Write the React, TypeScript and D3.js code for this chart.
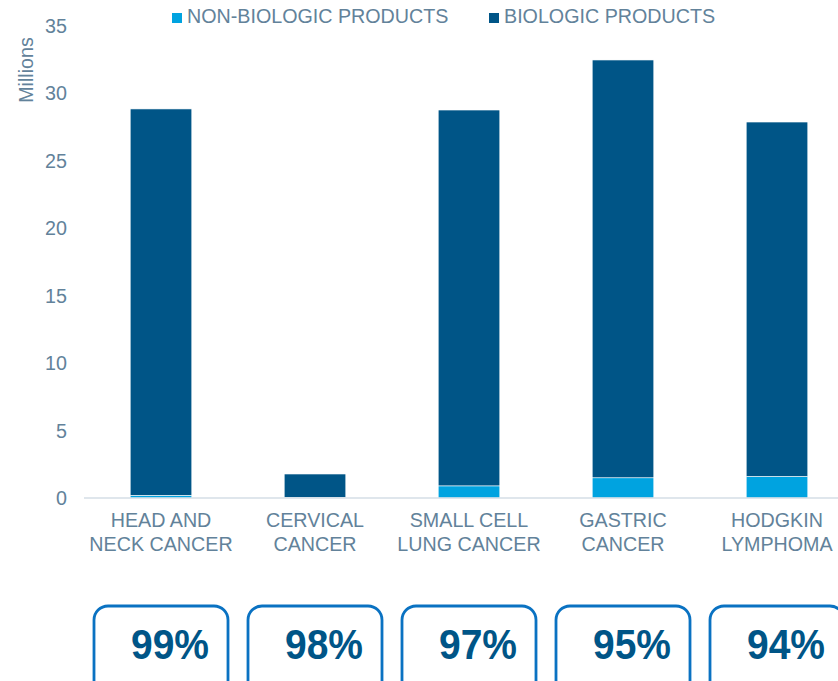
import { useEffect, useRef } from 'react';
import * as d3 from 'd3';

const categories = [
  ['HEAD AND', 'NECK CANCER'],
  ['CERVICAL', 'CANCER'],
  ['SMALL CELL', 'LUNG CANCER'],
  ['GASTRIC', 'CANCER'],
  ['HODGKIN', 'LYMPHOMA'],
];
const nonBiologic = [0.2, 0.05, 0.9, 1.5, 1.6];
const biologic = [28.65, 1.73, 27.87, 30.98, 26.28];
const shares = ['99%', '98%', '97%', '95%', '94%'];
const yTicks = [0, 5, 10, 15, 20, 25, 30, 35];
const seriesNames = ['NON-BIOLOGIC PRODUCTS', 'BIOLOGIC PRODUCTS'];

const W = 838;
const H = 681;
const lightBlue = '#00A3E0';
const darkBlue = '#005587';
const textColor = '#62829A';
const font = 'Liberation Sans, Arial, sans-serif';
const fs = 19.7;

export default function App() {
  const svgRef = useRef<SVGSVGElement>(null);

  useEffect(() => {
    if (!svgRef.current) return;
    const svg = d3.select(svgRef.current);
    svg.selectAll('*').remove();

    const keys = categories.map((c) => c.join(' '));
    const x = d3.scaleBand<string>().domain(keys).range([84, 854]).padding(0);
    const y = d3.scaleLinear().domain([0, 35]).range([498, 26]);
    const step = x.step();
    const barW = step * 0.4;

    // y tick labels
    svg.append('g')
      .selectAll('text')
      .data(yTicks)
      .join('text')
      .attr('x', 67)
      .attr('y', (d) => y(d) + 7)
      .attr('text-anchor', 'end')
      .attr('font-family', font)
      .attr('font-size', fs)
      .attr('fill', textColor)
      .text((d) => d);

    svg.append('text')
      .attr('transform', 'translate(33,70) rotate(-90)')
      .attr('text-anchor', 'middle')
      .attr('font-family', font)
      .attr('font-size', fs)
      .attr('fill', textColor)
      .text('Millions');

    // stacked bars
    const stackData = keys.map((k, i) => ({ key: k, non: nonBiologic[i], bio: biologic[i] }));
    const stacked = d3.stack<any>().keys(['non', 'bio'])(stackData);
    const colors = [lightBlue, darkBlue];

    stacked.forEach((layer, li) => {
      svg.append('g')
        .selectAll('rect')
        .data(layer)
        .join('rect')
        .attr('x', (d) => (x(d.data.key) as number) + (step - barW) / 2)
        .attr('y', (d) => y(d[1]))
        .attr('width', barW)
        .attr('height', (d) => y(d[0]) - y(d[1]))
        .attr('fill', colors[li])
        .attr('stroke', '#ffffff')
        .attr('stroke-width', 0.6);
    });

    // baseline
    svg.append('line')
      .attr('x1', 84)
      .attr('x2', W)
      .attr('y1', y(0))
      .attr('y2', y(0))
      .attr('stroke', '#D5DEE6')
      .attr('stroke-width', 1.5);

    // category labels
    const catG = svg.append('g')
      .selectAll('text')
      .data(categories)
      .join('text')
      .attr('text-anchor', 'middle')
      .attr('font-family', font)
      .attr('font-size', fs)
      .attr('fill', textColor);
    catG.each(function (d, i) {
      const cx = (x(keys[i]) as number) + step / 2;
      const t = d3.select(this);
      d.forEach((line, j) => {
        t.append('tspan').attr('x', cx).attr('y', 527 + j * 24).text(line);
      });
    });

    // legend
    const legendX = [172, 489];
    seriesNames.forEach((name, i) => {
      svg.append('rect')
        .attr('x', legendX[i])
        .attr('y', 13)
        .attr('width', 10)
        .attr('height', 10)
        .attr('fill', colors[i]);
      svg.append('text')
        .attr('x', legendX[i] + 15)
        .attr('y', 23)
        .attr('font-family', font)
        .attr('font-size', fs)
        .attr('fill', textColor)
        .text(name);
    });

    // share boxes
    const boxW = 134;
    const boxG = svg.append('g')
      .selectAll('g')
      .data(shares)
      .join('g')
      .attr('transform', (_, i) => `translate(${(x(keys[i]) as number) + step / 2},0)`);
    boxG.append('rect')
      .attr('x', -boxW / 2)
      .attr('y', 606)
      .attr('width', boxW)
      .attr('height', 100)
      .attr('rx', 14)
      .attr('fill', '#ffffff')
      .attr('stroke', '#0A72C2')
      .attr('stroke-width', 2.8);
    boxG.append('text')
      .attr('x', 9)
      .attr('y', 659)
      .attr('text-anchor', 'middle')
      .attr('font-family', font)
      .attr('font-size', 43)
      .attr('font-weight', 'bold')
      .attr('textLength', 78)
      .attr('lengthAdjust', 'spacingAndGlyphs')
      .attr('fill', darkBlue)
      .text((d) => d);
  }, []);

  return (
    <svg
      ref={svgRef}
      width={W}
      height={H}
      style={{ position: 'fixed', top: 0, left: 0, background: '#ffffff' }}
    />
  );
}
